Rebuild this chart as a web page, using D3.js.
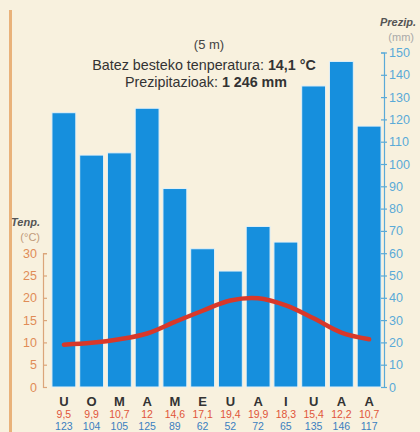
<!DOCTYPE html>
<html><head><meta charset="utf-8">
<script src="https://cdn.jsdelivr.net/npm/d3@7"></script>
<style>html,body{margin:0;padding:0;background:#f8f1de;}svg{display:block;font-family:"Liberation Sans",Arial,sans-serif;}</style>
</head><body>
<script>
const months = ["U","O","M","A","M","E","U","A","I","U","A","A"];
const temps = [9.5,9.9,10.7,12,14.6,17.1,19.4,19.9,18.3,15.4,12.2,10.7];
const tempLabels = ["9,5","9,9","10,7","12","14,6","17,1","19,4","19,9","18,3","15,4","12,2","10,7"];
const precip = [123,104,105,125,89,62,52,72,65,135,146,117];
const precipTicks = [0,10,20,30,40,50,60,70,80,90,100,110,120,130,140,150];
const tempTicks = [0,5,10,15,20,25,30];

const W = 420, H = 432;
const svg = d3.select("body").append("svg").attr("width", W).attr("height", H);

svg.append("rect").attr("width", W).attr("height", H).attr("fill", "#f8f1de");
svg.append("rect").attr("x", 9).attr("y", 10).attr("width", 3).attr("height", H - 10).attr("fill", "#e9b27a");

const x = d3.scaleBand().domain(d3.range(12)).range([50, 383]).paddingInner(0.14).paddingOuter(0.07);
const yP = d3.scaleLinear().domain([0, 150]).range([387, 52.5]);
const yT = d3.scaleLinear().domain([0, 30]).range([387, yP(60)]);

// bars
svg.append("g").selectAll("rect").data(precip).join("rect")
  .attr("x", (d, i) => x(i)).attr("width", x.bandwidth())
  .attr("y", d => yP(d)).attr("height", d => yP(0) - yP(d))
  .attr("fill", "#168fdd").attr("stroke", "#e4f1f6").attr("stroke-width", 1);

// temperature line
const line = d3.line().x((d, i) => x(i) + x.bandwidth() / 2).y(d => yT(d)).curve(d3.curveCatmullRom);
svg.append("path").datum(temps).attr("d", line).attr("fill", "none")
  .attr("stroke", "#d8382a").attr("stroke-width", 4.5).attr("stroke-linecap", "round");

// left axis (temperature)
const axL = d3.axisLeft(yT).tickValues(tempTicks).tickSizeInner(-4).tickSizeOuter(-4).tickPadding(6);
const gL = svg.append("g").attr("transform", "translate(43,0)").call(axL);
gL.select(".domain").attr("stroke", "#dba57a").attr("stroke-width", 1.2);
gL.selectAll(".tick line").attr("stroke", "#dba57a").attr("stroke-width", 1.2);
gL.selectAll(".tick text").attr("fill", "#e08c57").attr("font-size", 12.5).attr("font-family", "Liberation Sans, Arial, sans-serif");

// right axis (precipitation)
const axR = d3.axisRight(yP).tickValues(precipTicks).tickSizeInner(3).tickSizeOuter(-3).tickPadding(2);
const gR = svg.append("g").attr("transform", "translate(384,0)").call(axR);
gR.select(".domain").attr("stroke", "#5aaad8").attr("stroke-width", 1.2);
gR.selectAll(".tick line").attr("stroke", "#5aaad8").attr("stroke-width", 1.2).attr("x1", -3);
gR.selectAll(".tick text").attr("fill", "#5aaad8").attr("font-size", 12.5).attr("font-family", "Liberation Sans, Arial, sans-serif");

// axis titles
svg.append("text").attr("x", 416).attr("y", 26).attr("text-anchor", "end")
  .attr("font-size", 11).attr("font-style", "italic").attr("font-weight", "bold").attr("fill", "#555").text("Prezip.");
svg.append("text").attr("x", 414).attr("y", 41).attr("text-anchor", "end")
  .attr("font-size", 11).attr("fill", "#a9a9a9").text("(mm)");
svg.append("text").attr("x", 40).attr("y", 226).attr("text-anchor", "end")
  .attr("font-size", 11).attr("font-style", "italic").attr("font-weight", "bold").attr("fill", "#555").text("Tenp.");
svg.append("text").attr("x", 40).attr("y", 241).attr("text-anchor", "end")
  .attr("font-size", 11).attr("fill", "#c09a7a").text("(°C)");

// header texts
svg.append("text").attr("x", 209).attr("y", 49).attr("text-anchor", "middle")
  .attr("font-size", 13).attr("fill", "#444").text("(5 m)");
const t1 = svg.append("text").attr("x", 204).attr("y", 70).attr("text-anchor", "middle").attr("font-size", 14.3).attr("fill", "#333");
t1.append("tspan").text("Batez besteko tenperatura: ");
t1.append("tspan").attr("font-weight", "bold").text("14,1 °C");
const t2 = svg.append("text").attr("x", 206).attr("y", 87).attr("text-anchor", "middle").attr("font-size", 14.3).attr("fill", "#333");
t2.append("tspan").text("Prezipitazioak: ");
t2.append("tspan").attr("font-weight", "bold").text("1 246 mm");

// bottom labels
const cx = i => x(i) + x.bandwidth() / 2;
svg.append("g").selectAll("text").data(months).join("text")
  .attr("x", (d, i) => cx(i)).attr("y", 406).attr("text-anchor", "middle")
  .attr("font-size", 13).attr("font-weight", "bold").attr("fill", "#333").text(d => d);
svg.append("g").selectAll("text").data(tempLabels).join("text")
  .attr("x", (d, i) => cx(i)).attr("y", 418).attr("text-anchor", "middle")
  .attr("font-size", 10.5).attr("fill", "#e0553a").text(d => d);
svg.append("g").selectAll("text").data(precip).join("text")
  .attr("x", (d, i) => cx(i)).attr("y", 430).attr("text-anchor", "middle")
  .attr("font-size", 10.5).attr("fill", "#3b7fc0").text(d => d);
</script>
</body></html>
